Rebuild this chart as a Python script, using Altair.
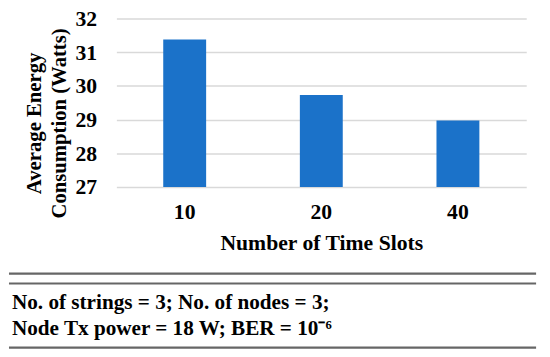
import altair as alt
import pandas as pd

slots = ["10", "20", "40"]
energy = [31.38, 29.73, 28.97]
y_ticks = [27, 28, 29, 30, 31, 32]
note_lines = ["No. of strings = 3; No. of nodes = 3;", "Node Tx power = 18 W; BER = 10\u207b\u2076"]
rule_rows = [259, 269, 334]

FONT = "Liberation Serif"

df = pd.DataFrame({"slots": slots, "energy": energy})

bars = alt.Chart(df).mark_bar(color="#1b72c9", clip=True).encode(
    x=alt.X("slots:N", sort=slots,
            scale=alt.Scale(paddingInner=0.686, paddingOuter=0.343),
            axis=alt.Axis(title="Number of Time Slots", labelAngle=0, labelFont=FONT,
                          labelFontSize=22, labelFontWeight="bold", labelColor="black",
                          labelPadding=15, ticks=False, tickSize=0, domain=False,
                          titleFont=FONT, titleFontSize=22, titleFontWeight="bold",
                          titleColor="black", titleBaseline="alphabetic", titleY=63)),
    y=alt.Y("energy:Q",
            scale=alt.Scale(domain=[27, 32], zero=False, nice=False),
            axis=alt.Axis(title=["Average Energy", "Consumption (Watts)"], values=y_ticks,
                          labelFont=FONT, labelFontSize=22, labelFontWeight="bold",
                          labelColor="black", labelPadding=20, ticks=False, tickSize=0,
                          domain=False, gridColor="#d9d9d9", gridWidth=1.5,
                          titleFont=FONT, titleFontSize=21, titleFontWeight="bold",
                          titleColor="black", titleBaseline="alphabetic",
                          titleLineHeight=25, titleX=-76.5, titleY=106, titleAngle=270)),
)

rules_df = pd.DataFrame({"ry": rule_rows})
rules = alt.Chart(rules_df).mark_rule(color="#666666", strokeWidth=2.2).encode(
    x=alt.value(-109), x2=alt.value(426), y=alt.Y("ry:Q", scale=None)
)

notes_df = pd.DataFrame({"t": ["\n".join(note_lines)]})
notes = alt.Chart(notes_df).mark_text(
    align="left", baseline="alphabetic", font=FONT, fontSize=21.5, fontWeight="bold",
    color="black", lineBreak="\n", lineHeight=26
).encode(x=alt.value(-106), y=alt.value(295), text="t:N")

chart = alt.layer(bars, rules, notes).properties(
    width=416, height=171,
    autosize=alt.AutoSizeParams(type="none"),
    padding={"left": 110, "top": 8, "right": 16, "bottom": 175},
).configure(background="white", font=FONT).configure_view(stroke=None).configure_axis(
    labelFont=FONT, titleFont=FONT
)

chart.save("out.html", embed_options={"renderer": "svg", "actions": False})
